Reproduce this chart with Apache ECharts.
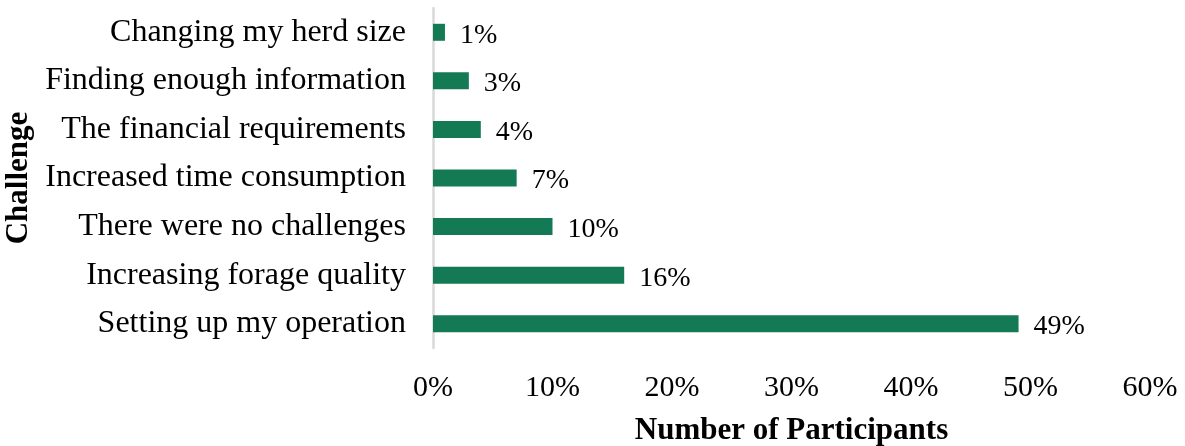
<!DOCTYPE html>
<html>
<head>
<meta charset="utf-8">
<script src="https://cdn.jsdelivr.net/npm/echarts@6/dist/echarts.min.js"></script>
<style>
  html, body { margin: 0; padding: 0; background: #fff; }
  #chart { width: 1185px; height: 446px; }
</style>
</head>
<body>
<div id="chart"></div>
<script>
// Survey responses: challenges faced, share of participants (%)
const challenges = [
  'Setting up my operation',
  'Increasing forage quality',
  'There were no challenges',
  'Increased time consumption',
  'The financial requirements',
  'Finding enough information',
  'Changing my herd size'
];
const shares = [49, 16, 10, 7, 4, 3, 1];
const xTicks = { min: 0, max: 60, step: 10 };

const serif = '"Liberation Serif", "Times New Roman", "DejaVu Serif", serif';
const chart = echarts.init(document.getElementById('chart'), null, { renderer: 'canvas' });

chart.setOption({
  animation: false,
  textStyle: { fontFamily: serif },
  grid: { left: 433, right: 35, top: 8, bottom: 98, outerBoundsMode: 'none', containLabel: false },
  xAxis: {
    type: 'value',
    min: xTicks.min,
    max: xTicks.max,
    interval: xTicks.step,
    name: 'Number of Participants',
    nameLocation: 'middle',
    nameGap: 67,
    nameTextStyle: { fontFamily: serif, fontSize: 31, fontWeight: 'bold', color: '#000', verticalAlign: 'top' },
    axisLine: { show: false },
    axisTick: { show: false },
    splitLine: { show: false },
    axisLabel: { formatter: '{value}%', fontFamily: serif, fontSize: 30, color: '#000', margin: 25 }
  },
  yAxis: {
    type: 'category',
    data: challenges,
    name: 'Challenge',
    nameLocation: 'middle',
    nameGap: 396,
    nameTextStyle: { fontFamily: serif, fontSize: 31, fontWeight: 'bold', color: '#000' },
    axisLine: { show: true, lineStyle: { color: '#d9d9d9', width: 2.5 } },
    axisTick: { show: false },
    axisLabel: { fontFamily: serif, fontSize: 32, color: '#000', margin: 27 }
  },
  series: [{
    type: 'bar',
    data: shares,
    barWidth: 17,
    itemStyle: { color: '#147a56' },
    label: {
      show: true,
      position: 'right',
      distance: 15,
      offset: [0, 3],
      formatter: '{c}%',
      fontFamily: serif,
      fontSize: 28,
      color: '#000'
    }
  }]
});
</script>
</body>
</html>
